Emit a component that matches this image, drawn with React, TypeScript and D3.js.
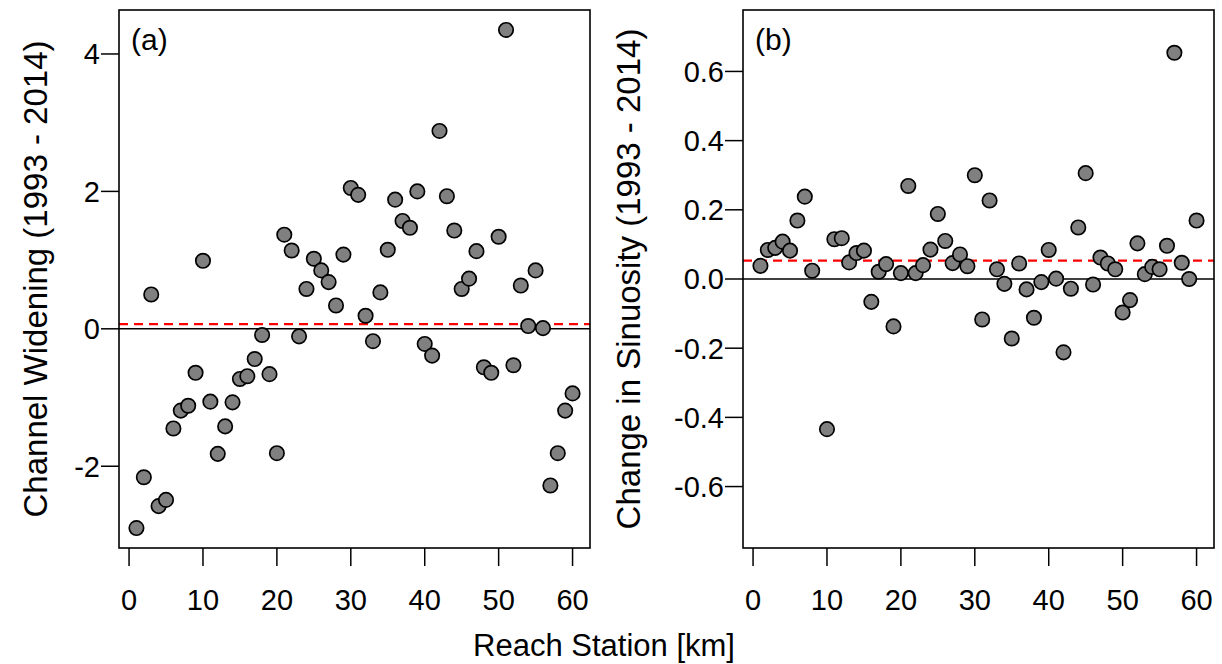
import { useEffect, useRef } from "react"
import * as d3 from "d3"

// reach stations (km) along the river
const stationKm = [
    1, 2, 3, 4, 5, 6, 7, 8, 9, 10, 11, 12, 13, 14, 15, 16, 17, 18, 19, 20,
    21, 22, 23, 24, 25, 26, 27, 28, 29, 30, 31, 32, 33, 34, 35, 36, 37, 38, 39, 40,
    41, 42, 43, 44, 45, 46, 47, 48, 49, 50, 51, 52, 53, 54, 55, 56, 57, 58, 59, 60,
]

// (a) channel widening 1993 - 2014
const widening = [
    -2.90, -2.16, 0.50, -2.58, -2.49, -1.45, -1.19, -1.12, -0.64, 0.99,
    -1.06, -1.82, -1.42, -1.07, -0.73, -0.69, -0.44, -0.09, -0.66, -1.81,
    1.37, 1.14, -0.11, 0.58, 1.02, 0.85, 0.68, 0.34, 1.08, 2.05,
    1.95, 0.19, -0.18, 0.53, 1.15, 1.88, 1.57, 1.47, 2.00, -0.22,
    -0.39, 2.88, 1.93, 1.43, 0.58, 0.73, 1.13, -0.56, -0.64, 1.34,
    4.35, -0.53, 0.63, 0.04, 0.85, 0.01, -2.28, -1.81, -1.19, -0.94,
]

// (b) change in sinuosity 1993 - 2014 (no value at km 9)
const sinuosity = [
    0.038, 0.084, 0.090, 0.108, 0.082, 0.169, 0.238, 0.024, null, -0.434,
    0.115, 0.118, 0.048, 0.075, 0.082, -0.066, 0.021, 0.043, -0.137, 0.017,
    0.269, 0.017, 0.040, 0.085, 0.188, 0.110, 0.046, 0.071, 0.037, 0.300,
    -0.117, 0.227, 0.028, -0.014, -0.172, 0.045, -0.030, -0.112, -0.009, 0.084,
    0.001, -0.212, -0.028, 0.149, 0.306, -0.016, 0.062, 0.045, 0.028, -0.097,
    -0.061, 0.103, 0.014, 0.035, 0.028, 0.096, 0.654, 0.047, 0.000, 0.169,
]

const xTicks = [0, 10, 20, 30, 40, 50, 60]
const widenTicks = [-2, 0, 2, 4]
const sinuTicks = [-0.6, -0.4, -0.2, 0.0, 0.2, 0.4, 0.6]
const sinuLimits = [-0.72, 0.72]

const W = 1222
const H = 664
const FONT = "'Liberation Sans', Arial, sans-serif"

// R style axis range: pad the limits by 4% on each side
function rPad([lo, hi]: number[]) {
    const d = (hi - lo) * 0.04
    return [lo - d, hi + d]
}

function drawPanel(svg, opts) {
    const { left, top, width, height, values, yDomain, yTicks, fmt, tag, title, titleX } = opts
    const x = d3.scaleLinear().domain(rPad(d3.extent(stationKm) as number[])).range([left, left + width])
    const y = d3.scaleLinear().domain(yDomain).range([top + height, top])

    const pts = stationKm
        .map((km, i) => ({ km, v: values[i] }))
        .filter(d => d.v !== null && d.v !== undefined)

    const g = svg.append("g")

    // zero line
    g.append("line")
        .attr("x1", left).attr("x2", left + width)
        .attr("y1", y(0)).attr("y2", y(0))
        .attr("stroke", "#000").attr("stroke-width", 1.5)

    // mean line
    const mean = d3.mean(pts, d => d.v) ?? 0
    g.append("line")
        .attr("x1", left).attr("x2", left + width)
        .attr("y1", y(mean)).attr("y2", y(mean))
        .attr("stroke", "#ff0000").attr("stroke-width", 2.2)
        .attr("stroke-dasharray", "9,6")

    g.append("g")
        .selectAll("circle")
        .data(pts)
        .join("circle")
        .attr("cx", d => x(d.km))
        .attr("cy", d => y(d.v))
        .attr("r", 7.2)
        .attr("fill", "#808080")
        .attr("stroke", "#000")
        .attr("stroke-width", 1.7)

    // box
    g.append("rect")
        .attr("x", left).attr("y", top)
        .attr("width", width).attr("height", height)
        .attr("fill", "none").attr("stroke", "#000").attr("stroke-width", 1.6)

    // x axis
    const tickLen = 18
    g.append("g").selectAll("line").data(xTicks).join("line")
        .attr("x1", d => x(d)).attr("x2", d => x(d))
        .attr("y1", top + height).attr("y2", top + height + tickLen)
        .attr("stroke", "#000").attr("stroke-width", 1.5)
    g.append("g").selectAll("text").data(xTicks).join("text")
        .attr("x", d => x(d)).attr("y", top + height + 62)
        .attr("text-anchor", "middle")
        .attr("font-family", FONT).attr("font-size", 29)
        .text(d => d)

    // y axis
    g.append("g").selectAll("line").data(yTicks).join("line")
        .attr("x1", left - tickLen).attr("x2", left)
        .attr("y1", d => y(d)).attr("y2", d => y(d))
        .attr("stroke", "#000").attr("stroke-width", 1.5)
    g.append("g").selectAll("text").data(yTicks).join("text")
        .attr("x", left - 19).attr("y", d => y(d))
        .attr("dy", "0.36em")
        .attr("text-anchor", "end")
        .attr("font-family", FONT).attr("font-size", 29)
        .text(d => fmt(d))

    g.append("text")
        .attr("transform", `translate(${titleX},${top + height / 2}) rotate(-90)`)
        .attr("text-anchor", "middle")
        .attr("font-family", FONT).attr("font-size", 33)
        .text(title)

    g.append("text")
        .attr("x", left + 12).attr("y", top + 40)
        .attr("font-family", FONT).attr("font-size", 30)
        .text(tag)
}

export default function App() {
    const ref = useRef<SVGSVGElement>(null)

    useEffect(() => {
        const svg = d3.select(ref.current)
        svg.selectAll("*").remove()

        svg.append("rect").attr("width", W).attr("height", H).attr("fill", "#fff")

        drawPanel(svg, {
            left: 119, top: 10, width: 471, height: 538,
            values: widening,
            yDomain: rPad(d3.extent(widening) as number[]),
            yTicks: widenTicks,
            fmt: d => String(d),
            tag: "(a)",
            title: "Channel Widening (1993 - 2014)",
            titleX: 47,
        })

        drawPanel(svg, {
            left: 743, top: 10, width: 471, height: 538,
            values: sinuosity,
            yDomain: rPad(sinuLimits),
            yTicks: sinuTicks,
            fmt: d => d.toFixed(1),
            tag: "(b)",
            title: "Change in Sinuosity (1993 - 2014)",
            titleX: 640,
        })

        svg.append("text")
            .attr("x", 604).attr("y", 656)
            .attr("text-anchor", "middle")
            .attr("font-family", FONT).attr("font-size", 31)
            .text("Reach Station [km]")
    }, [])

    return (
        <div style={{ position: "absolute", left: 0, top: 0 }}>
            <svg ref={ref} width={W} height={H} style={{ display: "block" }} />
        </div>
    )
}
